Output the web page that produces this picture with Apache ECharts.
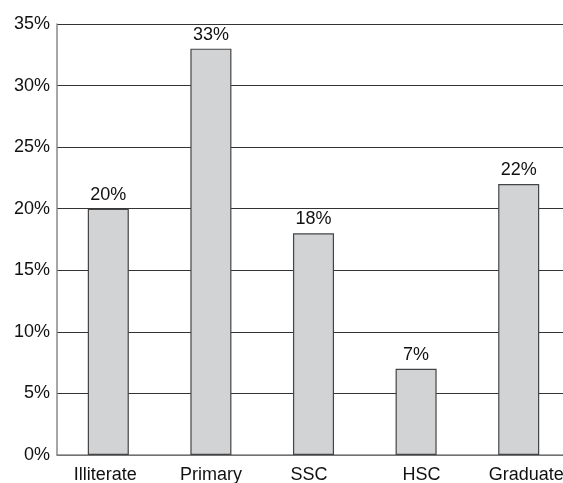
<!DOCTYPE html>
<html><head><meta charset="utf-8">
<script src="https://cdn.jsdelivr.net/npm/echarts@6/dist/echarts.min.js"></script>
<style>html,body{margin:0;padding:0;background:#fff}#c{width:563px;height:483px}</style>
</head><body><div id="c"></div>
<script>
const categories = ["Illiterate", "Primary", "SSC", "HSC", "Graduate"];
const values = [20, 33, 18, 7, 22];
const yTicks = [0, 5, 10, 15, 20, 25, 30, 35];

// horizontal nudges of the category labels (style only, px)
const labelNudge = [-3, 0, -4.5, 5.5, 7.5];
const rich = {};
labelNudge.forEach((d, i) => {
  rich['s' + i] = {
    fontSize: 18, fontFamily: 'Liberation Sans, Arial, sans-serif', color: '#111',
    padding: d >= 0 ? [0, 0, 0, 2 * d] : [0, -2 * d, 0, 0]
  };
});

const chart = echarts.init(document.getElementById('c'), null, {renderer: 'canvas'});
const font = 'Liberation Sans, Arial, sans-serif';
chart.setOption({
  animation: false,
  backgroundColor: '#fff',
  grid: {left: 57, top: 24, width: 513, bottom: 28, containLabel: false, outerBoundsMode: 'none'},
  xAxis: {
    type: 'category', data: categories,
    axisLine: {show: true, lineStyle: {color: '#888', width: 1.5}},
    axisTick: {show: false},
    axisLabel: {color: '#111', fontSize: 18, fontFamily: font, margin: 11, interval: 0,
      formatter: (v, i) => '{s' + i + '|' + v + '}', rich: rich},
    splitLine: {show: false}
  },
  yAxis: {
    type: 'value', min: yTicks[0], max: yTicks[yTicks.length - 1], interval: 5,
    axisLine: {show: true, lineStyle: {color: '#888', width: 1.5}},
    axisTick: {show: false},
    axisLabel: {color: '#111', fontSize: 18, fontFamily: font, margin: 7, formatter: v => v + '%'},
    splitLine: {show: true, lineStyle: {color: '#333', width: 1.2}}
  },
  series: [{
    type: 'bar', data: values, barWidth: '40%',
    itemStyle: {color: '#d2d3d5', borderColor: '#444', borderWidth: 1.2},
    label: {show: true, position: 'top', distance: 5, color: '#111', fontSize: 18, fontFamily: font, formatter: p => p.value + '%'}
  }]
});
</script></body></html>
